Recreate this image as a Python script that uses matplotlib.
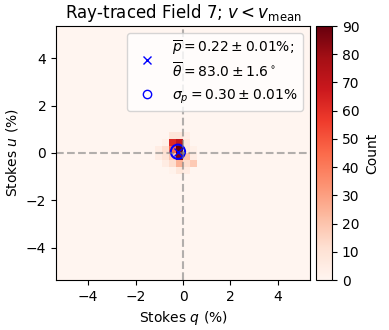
import matplotlib
matplotlib.use("Agg")
import matplotlib.pyplot as plt
from matplotlib.lines import Line2D
from matplotlib.patches import Circle
import numpy as np

# histogram bin edges (Stokes q, u in %)
q_edges = np.arange(-5.4, 5.4001, 0.3)
u_edges = np.arange(-5.4, 5.4001, 0.3)

# non-empty block of the 2D histogram: u rows from +0.9 down to -0.9,
# q columns from -1.2 to 0.6
block_q0 = -1.2
block_u_top = 0.9
block_counts = [
    [0, 0, 8, 8, 4, 0],
    [0, 3, 62, 70, 8, 0],
    [5, 12, 45, 90, 8, 3],
    [5, 10, 20, 85, 20, 5],
    [0, 5, 12, 25, 12, 18],
    [0, 0, 2, 8, 5, 0],
]

p_mean = 0.22
theta_mean = 83.0
sigma_p = 0.30

counts = np.zeros((len(u_edges) - 1, len(q_edges) - 1))
ci = int(round((block_q0 - q_edges[0]) / 0.3))
ri = int(round((block_u_top - u_edges[0]) / 0.3))
for k, row in enumerate(block_counts):
    counts[ri - 1 - k, ci:ci + len(row)] = row

q_mean = p_mean * np.cos(np.radians(2 * theta_mean))
u_mean = p_mean * np.sin(np.radians(2 * theta_mean))

fig = plt.figure(figsize=(3.89, 3.30), dpi=100)
ax = fig.add_axes([56 / 389, 50 / 330, 254 / 389, 254 / 330])
cax = fig.add_axes([316 / 389, 50 / 330, 16 / 389, 254 / 330])

mesh = ax.pcolormesh(q_edges, u_edges, counts, cmap="Reds", vmin=0, vmax=90)
ax.axvline(0, color="gray", linestyle="--", alpha=0.6)
ax.axhline(0, color="gray", linestyle="--", alpha=0.6)
ax.plot(q_mean, u_mean, "x", color="blue")
ax.add_patch(Circle((q_mean, u_mean), sigma_p, fill=False, edgecolor="blue", lw=1.5))

handles = [
    Line2D([], [], ls="none", marker="x", color="blue"),
    Line2D([], [], ls="none", marker="o", mfc="none", mec="blue"),
]
labels = [
    "$\\overline{p} = 0.22 \\pm 0.01\\%$;\n$\\overline{\\theta} = 83.0 \\pm 1.6^\\circ$",
    "$\\sigma_p = 0.30 \\pm 0.01\\%$",
]
ax.legend(handles, labels, loc="upper right")

ax.set_xlim(-5.35, 5.35)
ax.set_ylim(-5.35, 5.35)
ax.set_xlabel("Stokes $q$ (%)")
ax.set_ylabel("Stokes $u$ (%)")
ax.set_title("Ray-traced Field 7; $v < v_{\\rm mean}$")

cb = fig.colorbar(mesh, cax=cax)
cb.set_label("Count")
cb.set_ticks(np.arange(0, 91, 10))

fig.savefig("out.png", dpi=100)
